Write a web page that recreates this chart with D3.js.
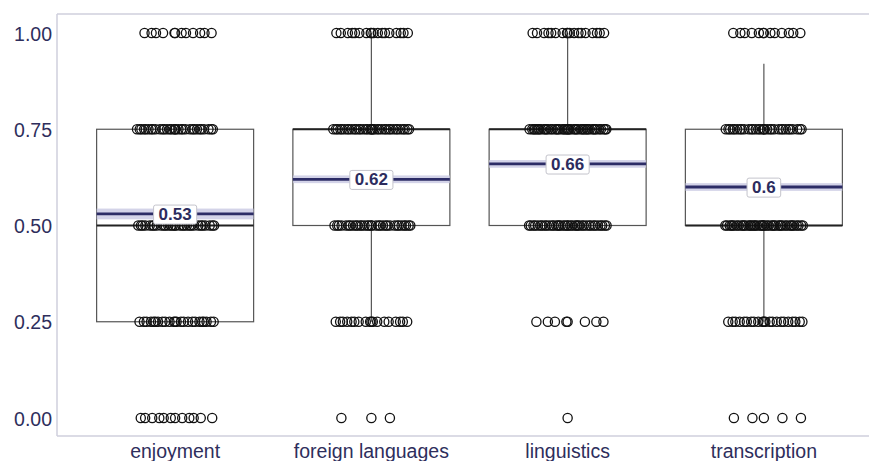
<!DOCTYPE html>
<html>
<head>
<meta charset="utf-8">
<script src="https://cdn.jsdelivr.net/npm/d3@7"></script>
<style>
  body { margin: 0; background: #fff; }
  svg { display: block; font-family: "Liberation Sans", Arial, Helvetica, sans-serif; }
</style>
</head>
<body>
<div id="chart"></div>
<script>
// data
const categories = ['enjoyment', 'foreign languages', 'linguistics', 'transcription'];
const levels = [0, 0.25, 0.5, 0.75, 1];
const tickValues = [0, 0.25, 0.5, 0.75, 1];
// number of responses at each level, per category
const countsEnjoyment = [12, 24, 30, 32, 12];
const countsForeign = [3, 18, 32, 36, 18];
const countsLinguistics = [1, 8, 38, 46, 18];
const countsTranscription = [5, 22, 44, 32, 13];
const q1 = [0.25, 0.5, 0.5, 0.5];
const median = [0.5, 0.75, 0.75, 0.5];
const q3 = [0.75, 0.75, 0.75, 0.75];
const whiskerLow = [null, 0.25, null, 0.25];
const whiskerHigh = [null, 1, 1, 0.92];
const means = [0.53, 0.62, 0.66, 0.6];
const meanLabels = ['0.53', '0.62', '0.66', '0.6'];
const ciHalf = [0.014, 0.01, 0.01, 0.01];

const counts = [countsEnjoyment, countsForeign, countsLinguistics, countsTranscription];

const W = 869, H = 461;
const svg = d3.select('#chart').append('svg').attr('width', W).attr('height', H);

const panel = { left: 57, top: 14, right: 869, bottom: 436 };
const x = d3.scaleBand().domain(categories).range([77, 862]).padding(0);
const y = d3.scaleLinear().domain([0, 1]).range([418, 33]);
const boxW = x.bandwidth() * 0.8;
const jitterW = x.bandwidth() * 0.2;
const cx = (c) => x(c) + x.bandwidth() / 2;

// panel border
const frame = svg.append('g').attr('stroke', '#cfcfdc').attr('stroke-width', 1.5);
frame.append('line').attr('x1', panel.left).attr('x2', panel.right).attr('y1', panel.top).attr('y2', panel.top);
frame.append('line').attr('x1', panel.left).attr('x2', panel.right).attr('y1', panel.bottom).attr('y2', panel.bottom);
frame.append('line').attr('x1', panel.left).attr('x2', panel.left).attr('y1', panel.top).attr('y2', panel.bottom);

// axes
const yAxis = svg.append('g')
  .attr('transform', `translate(${panel.left - 5},0)`)
  .call(d3.axisLeft(y).tickValues(tickValues).tickFormat(d3.format('.2f')).tickSize(0).tickPadding(0));
yAxis.select('.domain').remove();
yAxis.selectAll('text').attr('fill', '#2e2e5c').attr('font-size', 19.5).attr('dy', '0.36em');

const xAxis = svg.append('g')
  .attr('transform', `translate(0,${panel.bottom})`)
  .call(d3.axisBottom(x).tickSize(0).tickPadding(0));
xAxis.select('.domain').remove();
xAxis.selectAll('text').attr('fill', '#2e2e5c').attr('font-size', 19.5).attr('dy', '1.15em');

const groups = svg.append('g').selectAll('g').data(categories).enter().append('g');

// boxes
groups.append('rect')
  .attr('x', (d) => cx(d) - boxW / 2)
  .attr('width', boxW)
  .attr('y', (d, i) => y(q3[i]))
  .attr('height', (d, i) => y(q1[i]) - y(q3[i]))
  .attr('fill', 'none')
  .attr('stroke', '#555')
  .attr('stroke-width', 1.2);

groups.append('line')
  .attr('x1', (d) => cx(d) - boxW / 2)
  .attr('x2', (d) => cx(d) + boxW / 2)
  .attr('y1', (d, i) => y(median[i]))
  .attr('y2', (d, i) => y(median[i]))
  .attr('stroke', '#222')
  .attr('stroke-width', 1.8);

// whiskers
groups.filter((d, i) => whiskerHigh[i] !== null).append('line')
  .attr('x1', (d) => cx(d)).attr('x2', (d) => cx(d))
  .attr('y1', (d) => y(q3[categories.indexOf(d)]))
  .attr('y2', (d) => y(whiskerHigh[categories.indexOf(d)]))
  .attr('stroke', '#555').attr('stroke-width', 1.2);
groups.filter((d, i) => whiskerLow[i] !== null).append('line')
  .attr('x1', (d) => cx(d)).attr('x2', (d) => cx(d))
  .attr('y1', (d) => y(q1[categories.indexOf(d)]))
  .attr('y2', (d) => y(whiskerLow[categories.indexOf(d)]))
  .attr('stroke', '#555').attr('stroke-width', 1.2);

// jittered points (deterministic spread)
const points = [];
categories.forEach((c, ci) => {
  levels.forEach((lv, li) => {
    const n = counts[ci][li];
    for (let k = 0; k < n; k++) {
      const f = ((k * 0.618034 + 0.5 + li * 0.13 * (k > 0 ? 1 : 0)) % 1) * 2 - 1;
      points.push({ cat: c, value: lv, off: f * jitterW });
    }
  });
});
svg.append('g').selectAll('circle').data(points).enter().append('circle')
  .attr('cx', (d) => cx(d.cat) + d.off)
  .attr('cy', (d) => y(d.value))
  .attr('r', 4.6)
  .attr('fill', 'none')
  .attr('stroke', '#111')
  .attr('stroke-width', 1.3);

// mean with confidence band
const meanG = svg.append('g').selectAll('g').data(categories).enter().append('g');
meanG.append('rect')
  .attr('x', (d) => cx(d) - boxW / 2)
  .attr('width', boxW)
  .attr('y', (d, i) => y(means[i] + ciHalf[i]))
  .attr('height', (d, i) => y(means[i] - ciHalf[i]) - y(means[i] + ciHalf[i]))
  .attr('fill', '#c8c8e2')
  .attr('opacity', 0.8);
meanG.append('line')
  .attr('x1', (d) => cx(d) - boxW / 2)
  .attr('x2', (d) => cx(d) + boxW / 2)
  .attr('y1', (d, i) => y(means[i]))
  .attr('y2', (d, i) => y(means[i]))
  .attr('stroke', '#2c2c66')
  .attr('stroke-width', 2.8);
const lab = meanG.append('g').attr('transform', (d, i) => `translate(${cx(d)},${y(means[i])})`);
lab.append('text')
  .attr('text-anchor', 'middle')
  .attr('dy', '0.36em')
  .attr('font-size', 17)
  .attr('font-weight', 'bold')
  .attr('fill', '#2c2c5e')
  .text((d, i) => meanLabels[i]);
lab.each(function () {
  const g = d3.select(this);
  const bb = g.select('text').node().getBBox();
  g.insert('rect', 'text')
    .attr('x', bb.x - 5).attr('y', bb.y)
    .attr('width', bb.width + 10).attr('height', bb.height)
    .attr('rx', 2)
    .attr('fill', '#fff')
    .attr('stroke', '#c4c4cc')
    .attr('stroke-width', 1);
});
</script>
</body>
</html>
